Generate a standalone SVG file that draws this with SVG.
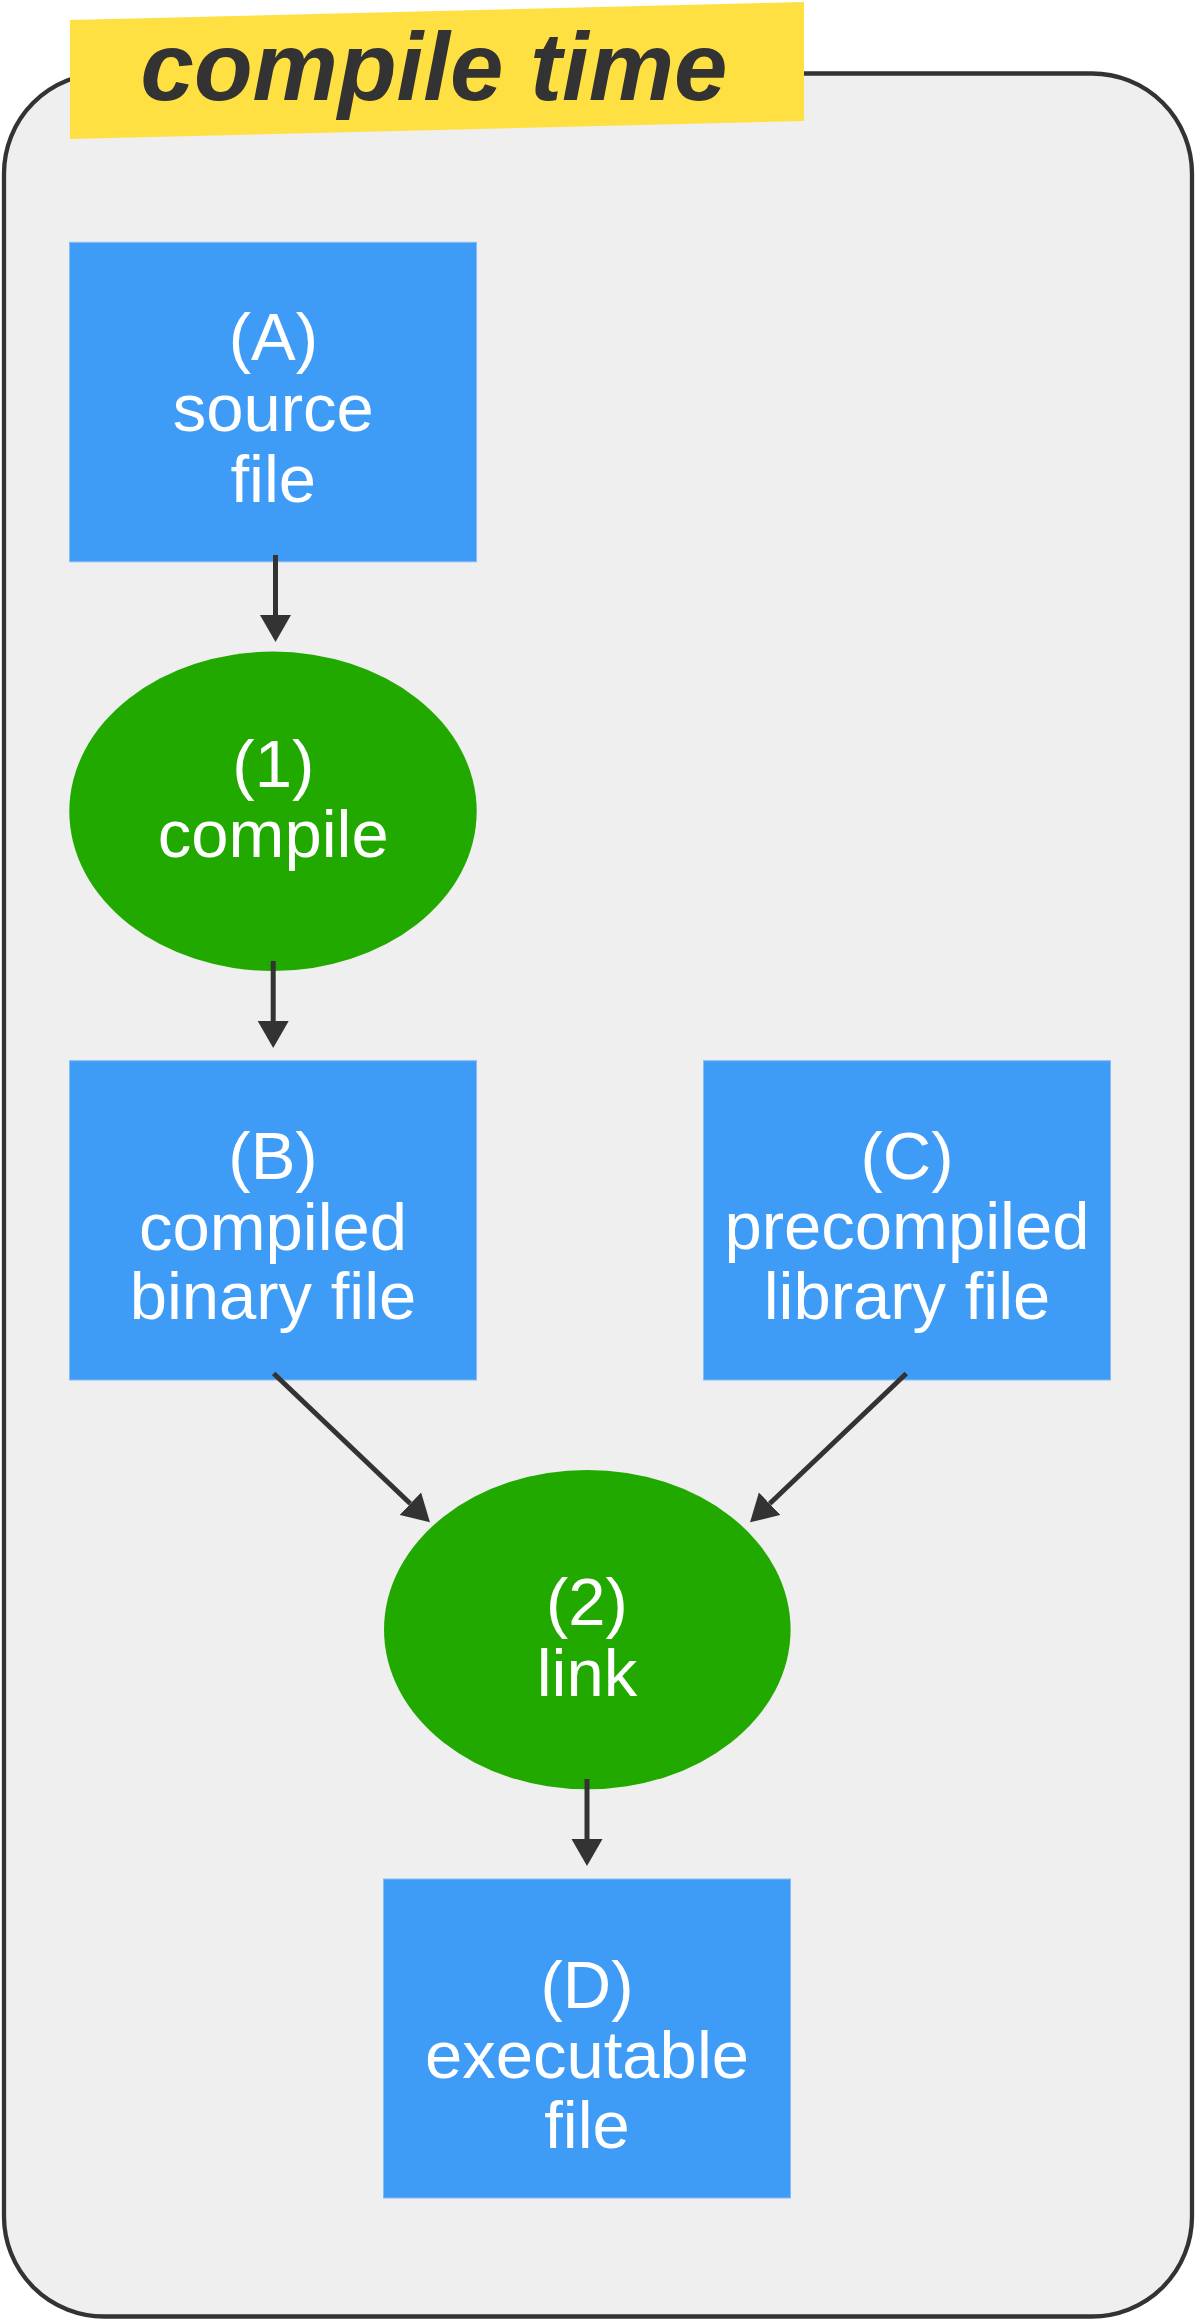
<svg xmlns="http://www.w3.org/2000/svg" width="1200" height="2323" viewBox="0 0 1200 2323">
  <defs>
    <style>
      .box { fill: #3e9bf6; stroke: #86bcf5; stroke-width: 1; }
      .proc { fill: #21a900; }
      .lbl { font-family: "Liberation Sans", Arial, Helvetica, sans-serif; font-size: 67px; fill: #ffffff; text-anchor: middle; }
      .title { font-family: "Liberation Sans", Arial, Helvetica, sans-serif; font-size: 96px; font-weight: bold; font-style: italic; fill: #333333; text-anchor: middle; }
      .edge { stroke: #333333; stroke-width: 5; fill: none; marker-end: url(#arrow); }
    </style>
    <marker id="arrow" markerUnits="userSpaceOnUse" markerWidth="28" markerHeight="32" refX="0" refY="15.5" orient="auto" viewBox="0 0 28 31">
      <path d="M0,0 L27,15.5 L0,31 Z" fill="#333333"/>
    </marker>
  </defs>

  <g id="container">
    <rect x="4" y="73.5" width="1188" height="2243" rx="100" ry="100" fill="#efefef" stroke="#333333" stroke-width="4.3"/>
  </g>

  <g id="title-label">
    <polygon points="70,20 804,2 804,121 70,139" fill="#ffe043"/>
    <text class="title" x="434" y="100">compile time</text>
  </g>

  <g id="node-A">
    <rect class="box" x="69.5" y="242.3" width="407" height="319.5"/>
    <text class="lbl" x="273.3" y="360">(A)</text>
    <text class="lbl" x="273.3" y="431">source</text>
    <text class="lbl" x="273.3" y="501.7">file</text>
  </g>

  <g id="node-1">
    <ellipse class="proc" cx="273" cy="811.3" rx="203.7" ry="159.7"/>
    <text class="lbl" x="273.3" y="786.7">(1)</text>
    <text class="lbl" x="273.3" y="856.7">compile</text>
  </g>

  <g id="node-B">
    <rect class="box" x="69.5" y="1060.7" width="407" height="319.3"/>
    <text class="lbl" x="273" y="1179">(B)</text>
    <text class="lbl" x="273" y="1250">compiled</text>
    <text class="lbl" x="273" y="1319">binary file</text>
  </g>

  <g id="node-C">
    <rect class="box" x="703.5" y="1060.7" width="407" height="319.3"/>
    <text class="lbl" x="907" y="1179">(C)</text>
    <text class="lbl" x="907" y="1249">precompiled</text>
    <text class="lbl" x="907" y="1319">library file</text>
  </g>

  <g id="node-2">
    <ellipse class="proc" cx="587.3" cy="1629.6" rx="203.3" ry="159.7"/>
    <text class="lbl" x="587" y="1625.4">(2)</text>
    <text class="lbl" x="587" y="1695.7">link</text>
  </g>

  <g id="node-D">
    <rect class="box" x="383.5" y="1879" width="407" height="319"/>
    <text class="lbl" x="587" y="2008">(D)</text>
    <text class="lbl" x="587" y="2078">executable</text>
    <text class="lbl" x="587" y="2148">file</text>
  </g>

  <g id="connectors">
    <line class="edge" x1="275.5" y1="555" x2="275.5" y2="615"/>
    <line class="edge" x1="273.2" y1="961" x2="273.2" y2="1021"/>
    <line class="edge" x1="273.7" y1="1373.5" x2="410.4" y2="1503.7"/>
    <line class="edge" x1="906.3" y1="1373.5" x2="769.6" y2="1503.7"/>
    <line class="edge" x1="587" y1="1779" x2="587" y2="1839"/>
  </g>
</svg>
